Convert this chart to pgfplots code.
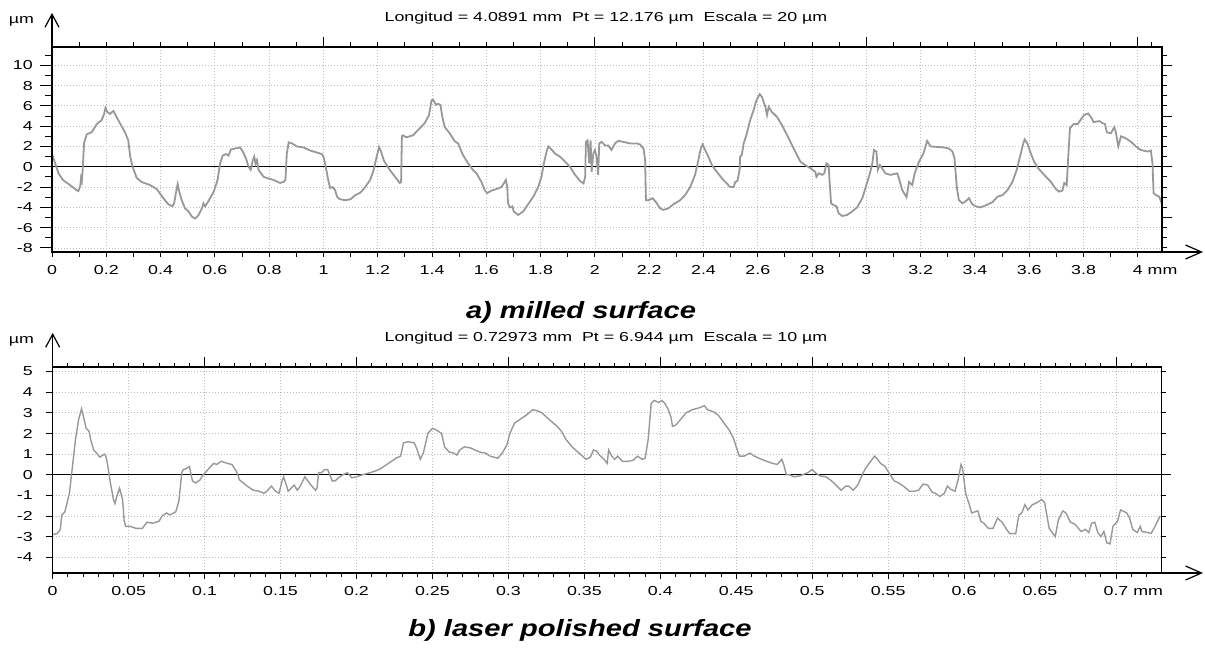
\documentclass[border=0pt]{standalone}
\usepackage{fontspec}
\setmainfont{Liberation Sans}
\newfontfamily\tickf[FakeStretch=1.37]{Liberation Sans}
\newfontfamily\capf[FakeStretch=1.24]{Liberation Sans}
\usepackage{pgfplots}
\pgfplotsset{compat=1.18}
\usetikzlibrary{arrows.meta}
\definecolor{profc}{RGB}{152,152,152}
\definecolor{gridc}{RGB}{190,190,190}

\newcommand{\tf}{\tickf\fontsize{13}{15}\selectfont}

\pgfplotsset{
  base/.style={scale only axis, anchor=south west, tick align=outside,
    axis line style={black, line width=1.2pt},
    tick style={black, line width=1pt},
    tick label style={font=\tf}},
  topax/.style={base, at={(52pt,396pt)}, width=1110pt, height=205pt,
    xmin=0, xmax=4.0891, ymin=-8.4, ymax=11.8},
  botax/.style={base, at={(52.7pt,75pt)}, width=1108.5pt, height=206pt,
    xmin=0, xmax=0.72973, ymin=-4.76, ymax=5.22},
  gridst/.style={grid=major, major grid style={gridc, line width=0.8pt, dash pattern=on 1pt off 2pt}},
}

\begin{document}
\begin{tikzpicture}
\useasboundingbox (0,0) rectangle (1205pt,648pt);

% ---------- a) milled surface ----------
\begin{axis}[topax, gridst,
    xtick pos=bottom, ytick pos=left,
    major tick length=5pt, minor tick length=5pt,
    xtick={0,0.2,0.4,0.6,0.8,1,1.2,1.4,1.6,1.8,2,2.2,2.4,2.6,2.8,3,3.2,3.4,3.6,3.8,4},
    xticklabels={0,0.2,0.4,0.6,0.8,1,1.2,1.4,1.6,1.8,2,2.2,2.4,2.6,2.8,3,3.2,3.4,3.6,3.8,4\rlap{ mm}},
    minor xtick={0.1,0.3,0.5,0.7,0.9,1.1,1.3,1.5,1.7,1.9,2.1,2.3,2.5,2.7,2.9,3.1,3.3,3.5,3.7,3.9},
    xticklabel style={anchor=north, inner sep=0pt, yshift=-8pt},
    ytick={-8,-6,-4,-2,0,2,4,6,8,10}, yticklabels={,,}]
\addplot[black, line width=1.1pt] coordinates {(0,0) (4.0891,0)};
\addplot[profc, line width=1.8pt] coordinates {
(0,1.3)(0.012,0.3)(0.024,-0.65)(0.04,-1.3)(0.066,-1.8)(0.09,-2.3)(0.097,-2.4)(0.104,-1.9)(0.107,-1.1)(0.11,-1.4)(0.113,-0.3)(0.118,2.3)(0.128,3.2)(0.146,3.4)(0.165,4.2)(0.183,4.6)(0.192,5.2)(0.197,5.8)(0.204,5.4)(0.214,5.2)(0.226,5.5)(0.232,5.2)(0.25,4.3)(0.269,3.4)(0.281,2.6)(0.288,1.0)(0.297,0)(0.312,-1.1)(0.33,-1.5)(0.361,-1.8)(0.386,-2.2)(0.41,-3.1)(0.429,-3.7)(0.444,-3.9)(0.45,-3.6)(0.457,-2.5)(0.463,-1.7)(0.469,-2.5)(0.478,-3.3)(0.49,-4.1)(0.503,-4.4)(0.515,-4.9)(0.527,-5.1)(0.54,-4.75)(0.552,-4.1)(0.558,-3.6)(0.564,-3.9)(0.576,-3.4)(0.595,-2.5)(0.61,-1.3)(0.619,0.3)(0.629,1.1)(0.641,1.25)(0.65,1.1)(0.659,1.7)(0.675,1.8)(0.693,1.9)(0.703,1.5)(0.715,0.8)(0.724,0)(0.732,-0.3)(0.74,0.65)(0.745,1.0)(0.75,0.3)(0.755,0.65)(0.761,-0.3)(0.77,-0.65)(0.78,-1.0)(0.79,-1.1)(0.816,-1.3)(0.84,-1.6)(0.853,-1.5)(0.86,-1.3)(0.865,1.3)(0.872,2.4)(0.884,2.3)(0.902,2.0)(0.927,1.9)(0.951,1.6)(0.976,1.4)(0.994,1.25)(1.0,1.0)(1.006,0.33)(1.013,-0.65)(1.019,-1.5)(1.025,-2.1)(1.034,-2.0)(1.043,-2.3)(1.05,-2.95)(1.06,-3.2)(1.08,-3.3)(1.1,-3.2)(1.117,-2.8)(1.136,-2.55)(1.154,-2.0)(1.172,-1.3)(1.185,-0.3)(1.197,1.1)(1.205,1.95)(1.212,1.5)(1.222,0.65)(1.24,-0.15)(1.264,-1.0)(1.281,-1.6)(1.286,-1.5)(1.289,3.0)(1.293,3.1)(1.305,2.9)(1.33,3.1)(1.348,3.6)(1.373,4.3)(1.389,5.1)(1.398,6.55)(1.404,6.6)(1.414,6.1)(1.422,6.2)(1.431,6.1)(1.438,4.9)(1.447,3.9)(1.465,3.3)(1.484,2.5)(1.496,2.3)(1.514,1.15)(1.533,0.33)(1.551,-0.33)(1.564,-0.65)(1.582,-1.5)(1.594,-2.3)(1.603,-2.6)(1.619,-2.35)(1.637,-2.2)(1.656,-2.0)(1.672,-1.3)(1.677,-2.0)(1.68,-3.6)(1.687,-4.0)(1.696,-3.9)(1.701,-4.4)(1.717,-4.75)(1.736,-4.4)(1.754,-3.7)(1.773,-2.95)(1.791,-2.0)(1.803,-1.0)(1.812,0.33)(1.822,1.5)(1.828,2.0)(1.84,1.7)(1.853,1.3)(1.871,1.0)(1.89,0.5)(1.908,0)(1.927,-0.8)(1.945,-1.4)(1.958,-1.65)(1.964,-1.0)(1.967,2.45)(1.973,2.6)(1.979,0.33)(1.984,2.6)(1.988,-0.5)(1.994,1.3)(2.0,1.65)(2.006,1.0)(2.012,-0.8)(2.016,2.3)(2.024,2.45)(2.037,2.1)(2.049,2.1)(2.061,1.65)(2.074,2.3)(2.086,2.55)(2.105,2.45)(2.129,2.3)(2.154,2.3)(2.166,2.2)(2.179,1.8)(2.185,0.65)(2.188,-3.3)(2.197,-3.3)(2.206,-3.2)(2.213,-3.1)(2.228,-3.6)(2.24,-4.1)(2.252,-4.25)(2.271,-4.1)(2.289,-3.7)(2.314,-3.3)(2.332,-2.8)(2.351,-2.0)(2.369,-0.8)(2.381,0.65)(2.39,1.8)(2.397,2.2)(2.406,1.65)(2.418,1.0)(2.431,0.16)(2.449,-0.5)(2.468,-1.15)(2.486,-1.65)(2.498,-2.0)(2.511,-2.0)(2.517,-1.5)(2.525,-1.4)(2.533,-0.3)(2.535,1.0)(2.541,1.15)(2.548,2.3)(2.56,3.3)(2.572,4.6)(2.585,5.6)(2.595,6.55)(2.607,7.15)(2.615,6.9)(2.628,5.9)(2.634,5.1)(2.64,5.9)(2.652,5.4)(2.671,4.9)(2.689,4.1)(2.714,2.8)(2.732,1.8)(2.757,0.5)(2.775,0.16)(2.794,-0.15)(2.812,-0.5)(2.816,-1.0)(2.825,-0.65)(2.837,-0.8)(2.845,-0.65)(2.853,0.33)(2.861,0.16)(2.865,-1.65)(2.87,-3.6)(2.88,-3.8)(2.89,-3.9)(2.898,-4.6)(2.911,-4.85)(2.929,-4.75)(2.948,-4.4)(2.966,-4.0)(2.985,-3.1)(3.0,-1.8)(3.013,-0.65)(3.022,0.33)(3.028,1.65)(3.037,1.5)(3.042,-0.3)(3.05,0.16)(3.058,-0.15)(3.07,-0.65)(3.089,-0.8)(3.114,-0.65)(3.12,-1.15)(3.132,-2.3)(3.148,-3.0)(3.157,-1.5)(3.169,-1.8)(3.178,-0.65)(3.194,0.5)(3.21,1.3)(3.218,2.0)(3.224,2.55)(3.237,2.0)(3.261,1.95)(3.286,1.9)(3.304,1.8)(3.317,1.5)(3.325,0.8)(3.333,-2.0)(3.341,-3.3)(3.354,-3.6)(3.366,-3.4)(3.378,-3.1)(3.39,-3.7)(3.403,-3.9)(3.421,-4.0)(3.44,-3.8)(3.464,-3.5)(3.483,-2.95)(3.501,-2.8)(3.52,-2.3)(3.538,-1.5)(3.554,-0.3)(3.566,1.0)(3.575,2.0)(3.583,2.7)(3.593,2.3)(3.606,1.3)(3.618,0.5)(3.633,-0.15)(3.655,-0.8)(3.68,-1.5)(3.698,-2.2)(3.71,-2.45)(3.722,-2.35)(3.729,-1.6)(3.738,-1.8)(3.743,0.65)(3.75,3.8)(3.763,4.2)(3.778,4.2)(3.79,4.65)(3.802,5.1)(3.817,5.25)(3.827,4.9)(3.837,4.4)(3.858,4.5)(3.87,4.3)(3.879,4.2)(3.886,3.4)(3.901,3.3)(3.913,3.9)(3.919,3.4)(3.928,2.0)(3.938,3.0)(3.956,2.8)(3.975,2.45)(3.993,2.0)(4.011,1.65)(4.036,1.5)(4.048,1.6)(4.054,0.33)(4.058,-2.6)(4.067,-2.8)(4.079,-2.95)(4.088,-3.6)
};
\end{axis}
% left ticks and labels
\begin{axis}[topax, axis x line=none, axis y line*=left,
    major tick length=12pt, minor tick length=7pt,
    ytick={-8,-6,-4,-2,0,2,4,6,8,10},
    yticklabels={-8,-6,-4,-2,0,2,4,6,8,10},
    minor ytick={-7,-5,-3,-1,1,3,5,7,9,11},
    yticklabel style={anchor=east, inner sep=0pt, xshift=-7pt}]
\end{axis}
% top and right ticks
\begin{axis}[topax, axis x line*=top, axis y line*=right,
    major tick length=10pt, minor tick length=4.5pt,
    xtick={0,1,2,3,4}, xticklabels={,,},
    minor xtick={0.1,0.2,0.3,0.4,0.5,0.6,0.7,0.8,0.9,1.1,1.2,1.3,1.4,1.5,1.6,1.7,1.8,1.9,2.1,2.2,2.3,2.4,2.5,2.6,2.7,2.8,2.9,3.1,3.2,3.3,3.4,3.5,3.6,3.7,3.8,3.9,4.05},
    ytick={-5,0,5,10}, yticklabels={,,},
    minor ytick={-8,-7,-6,-4,-3,-2,-1,1,2,3,4,6,7,8,9,11}]
\end{axis}
\draw[line width=1.2pt, -{Straight Barb[length=13pt,width=14pt]}] (52pt,600pt) -- (52pt,635pt);
\draw[line width=1.2pt, -{Straight Barb[length=16pt,width=14pt]}] (1161pt,396pt) -- (1203pt,396pt);
\node[font=\tf, anchor=base] at (21.5pt,624pt) {µm};
\node[font=\tf, anchor=base] at (606pt,626.3pt) {Longitud = 4.0891 mm\ \ Pt = 12.176 µm\ \ Escala = 20 µm};
\node[font=\capf\fontsize{23.5}{26}\selectfont\bfseries\itshape, anchor=base] at (581pt,329pt) {a) milled surface};

% ---------- b) laser polished surface ----------
\begin{axis}[botax, gridst,
    xtick pos=bottom, ytick pos=left,
    major tick length=6pt, minor tick length=4.5pt,
    xtick={0,0.05,0.1,0.15,0.2,0.25,0.3,0.35,0.4,0.45,0.5,0.55,0.6,0.65,0.7},
    xticklabels={0,0.05,0.1,0.15,0.2,0.25,0.3,0.35,0.4,0.45,0.5,0.55,0.6,0.65,0.7\rlap{ mm}},
    minor xtick={0.01,0.02,0.03,0.04,0.06,0.07,0.08,0.09,0.11,0.12,0.13,0.14,0.16,0.17,0.18,0.19,0.21,0.22,0.23,0.24,0.26,0.27,0.28,0.29,0.31,0.32,0.33,0.34,0.36,0.37,0.38,0.39,0.41,0.42,0.43,0.44,0.46,0.47,0.48,0.49,0.51,0.52,0.53,0.54,0.56,0.57,0.58,0.59,0.61,0.62,0.63,0.64,0.66,0.67,0.68,0.69,0.71,0.72},
    xticklabel style={anchor=north, inner sep=0pt, yshift=-7pt},
    ytick={-4,-3,-2,-1,0,1,2,3,4,5}, yticklabels={,,}]
\addplot[black, line width=1.1pt] coordinates {(0,0) (0.72973,0)};
\addplot[profc, line width=1.4pt] coordinates {
(0,-2.9)(0.003,-2.85)(0.005,-2.65)(0.006,-1.95)(0.008,-1.8)(0.011,-0.9)(0.013,0.4)(0.015,1.7)(0.017,2.65)(0.019,3.2)(0.02,2.9)(0.022,2.25)(0.024,2.1)(0.025,1.7)(0.027,1.2)(0.029,1.05)(0.031,0.85)(0.034,1.0)(0.035,0.9)(0.036,0.55)(0.037,0.1)(0.038,-0.4)(0.04,-1.2)(0.041,-1.4)(0.042,-1.1)(0.044,-0.65)(0.046,-1.2)(0.047,-2.2)(0.048,-2.5)(0.051,-2.5)(0.053,-2.55)(0.055,-2.6)(0.059,-2.6)(0.06,-2.5)(0.062,-2.3)(0.066,-2.35)(0.07,-2.25)(0.072,-2.0)(0.075,-1.85)(0.077,-1.95)(0.081,-1.8)(0.083,-1.3)(0.085,0.1)(0.086,0.25)(0.088,0.3)(0.09,0.4)(0.092,-0.3)(0.094,-0.4)(0.097,-0.25)(0.099,0)(0.101,0.15)(0.104,0.4)(0.106,0.55)(0.108,0.5)(0.111,0.65)(0.115,0.55)(0.118,0.5)(0.121,0.15)(0.123,-0.25)(0.128,-0.55)(0.132,-0.75)(0.136,-0.8)(0.139,-0.9)(0.141,-0.8)(0.144,-0.55)(0.146,-0.75)(0.149,-0.9)(0.151,-0.3)(0.152,-0.1)(0.154,-0.55)(0.155,-0.8)(0.157,-0.65)(0.159,-0.5)(0.161,-0.75)(0.163,-0.55)(0.166,-0.1)(0.168,-0.3)(0.17,-0.5)(0.173,-0.75)(0.174,-0.65)(0.175,0.1)(0.177,0.1)(0.179,0.25)(0.181,0.25)(0.184,-0.3)(0.186,-0.3)(0.188,-0.15)(0.191,0)(0.194,0.1)(0.197,-0.15)(0.2,-0.1)(0.204,0)(0.209,0.1)(0.213,0.2)(0.216,0.3)(0.22,0.5)(0.223,0.65)(0.226,0.8)(0.229,0.9)(0.231,1.55)(0.234,1.6)(0.238,1.55)(0.24,1.2)(0.242,0.75)(0.244,1.05)(0.247,2.0)(0.25,2.25)(0.253,2.15)(0.256,2.0)(0.258,1.35)(0.261,1.1)(0.264,1.05)(0.266,0.95)(0.268,1.2)(0.271,1.35)(0.275,1.3)(0.278,1.2)(0.281,1.1)(0.285,1.05)(0.288,0.9)(0.293,0.8)(0.296,1.05)(0.299,1.45)(0.301,2.0)(0.304,2.5)(0.308,2.7)(0.312,2.9)(0.316,3.15)(0.319,3.1)(0.322,3.0)(0.325,2.8)(0.328,2.6)(0.332,2.35)(0.335,2.1)(0.338,1.7)(0.342,1.35)(0.345,1.15)(0.348,0.95)(0.351,0.75)(0.354,0.85)(0.356,1.2)(0.358,1.15)(0.36,0.95)(0.363,0.75)(0.365,0.55)(0.366,1.2)(0.368,0.9)(0.37,0.75)(0.372,0.9)(0.375,0.65)(0.379,0.65)(0.382,0.7)(0.385,0.9)(0.388,0.75)(0.39,0.8)(0.392,1.7)(0.394,3.45)(0.396,3.6)(0.399,3.5)(0.401,3.6)(0.403,3.45)(0.405,3.2)(0.407,2.8)(0.408,2.35)(0.41,2.4)(0.413,2.65)(0.417,3.0)(0.421,3.15)(0.426,3.25)(0.429,3.35)(0.431,3.15)(0.435,3.05)(0.438,2.9)(0.441,2.6)(0.445,2.2)(0.448,1.8)(0.45,1.35)(0.452,0.9)(0.455,0.9)(0.459,1.05)(0.462,0.9)(0.465,0.8)(0.47,0.65)(0.474,0.55)(0.477,0.5)(0.48,0.75)(0.481,0.55)(0.483,0)(0.485,0)(0.488,-0.1)(0.492,-0.05)(0.497,0.1)(0.5,0.25)(0.502,0.1)(0.505,-0.05)(0.509,-0.1)(0.512,-0.25)(0.515,-0.45)(0.519,-0.75)(0.522,-0.55)(0.524,-0.55)(0.527,-0.75)(0.53,-0.5)(0.533,0)(0.535,0.3)(0.537,0.5)(0.541,0.9)(0.543,0.75)(0.545,0.55)(0.548,0.4)(0.55,0.15)(0.554,-0.3)(0.557,-0.4)(0.56,-0.55)(0.564,-0.8)(0.567,-0.8)(0.57,-0.75)(0.573,-0.45)(0.576,-0.5)(0.579,-0.85)(0.581,-0.9)(0.584,-1.05)(0.587,-0.9)(0.589,-0.55)(0.591,-0.7)(0.594,-0.8)(0.596,-0.25)(0.598,0.5)(0.599,0.3)(0.601,-0.9)(0.603,-1.35)(0.605,-1.85)(0.607,-1.8)(0.609,-1.75)(0.611,-2.25)(0.613,-2.35)(0.616,-2.6)(0.619,-2.6)(0.622,-2.1)(0.625,-2.3)(0.628,-2.65)(0.63,-2.85)(0.634,-2.85)(0.636,-1.95)(0.638,-1.85)(0.64,-1.45)(0.642,-1.7)(0.645,-1.45)(0.648,-1.35)(0.651,-1.2)(0.653,-1.35)(0.656,-2.6)(0.658,-2.8)(0.66,-3.0)(0.662,-2.2)(0.665,-1.75)(0.667,-1.85)(0.67,-2.3)(0.673,-2.4)(0.677,-2.75)(0.68,-2.65)(0.682,-2.8)(0.684,-2.35)(0.686,-2.3)(0.688,-2.8)(0.69,-3.0)(0.692,-2.75)(0.694,-3.3)(0.696,-3.35)(0.698,-2.5)(0.701,-2.25)(0.703,-1.7)(0.707,-1.85)(0.709,-2.1)(0.711,-2.65)(0.714,-2.8)(0.716,-2.5)(0.717,-2.75)(0.721,-2.8)(0.723,-2.85)(0.725,-2.6)(0.727,-2.3)(0.729,-2.0)
};
\end{axis}
\begin{axis}[botax, axis x line=none, axis y line*=left,
    major tick length=7pt,
    ytick={-4,-3,-2,-1,0,1,2,3,4,5},
    yticklabels={-4,-3,-2,-1,0,1,2,3,4,5},
    yticklabel style={anchor=east, inner sep=0pt, xshift=-12.7pt}]
\end{axis}
\begin{axis}[botax, axis x line*=top, axis y line*=right,
    major tick length=10pt, minor tick length=4.5pt,
    xtick={0,0.1,0.2,0.3,0.4,0.5,0.6,0.7}, xticklabels={,,},
    minor xtick={0.01,0.02,0.03,0.04,0.05,0.06,0.07,0.08,0.09,0.11,0.12,0.13,0.14,0.15,0.16,0.17,0.18,0.19,0.21,0.22,0.23,0.24,0.25,0.26,0.27,0.28,0.29,0.31,0.32,0.33,0.34,0.35,0.36,0.37,0.38,0.39,0.41,0.42,0.43,0.44,0.45,0.46,0.47,0.48,0.49,0.51,0.52,0.53,0.54,0.55,0.56,0.57,0.58,0.59,0.61,0.62,0.63,0.64,0.65,0.66,0.67,0.68,0.69,0.71,0.72},
    ytick={0}, yticklabels={,,},
    minor ytick={-4,-3,-2,-1,1,2,3,4,5}]
\end{axis}
\draw[line width=1.2pt, -{Straight Barb[length=13pt,width=14pt]}] (52.7pt,280pt) -- (52.7pt,315pt);
\draw[line width=1.2pt, -{Straight Barb[length=16pt,width=14pt]}] (1160pt,75pt) -- (1203pt,75pt);
\node[font=\tf, anchor=base] at (21.5pt,304pt) {µm};
\node[font=\tf, anchor=base] at (606pt,306.3pt) {Longitud = 0.72973 mm\ \ Pt = 6.944 µm\ \ Escala = 10 µm};
\node[font=\capf\fontsize{23.5}{26}\selectfont\bfseries\itshape, anchor=base] at (580pt,11pt) {b) laser polished surface};
\end{tikzpicture}
\end{document}
